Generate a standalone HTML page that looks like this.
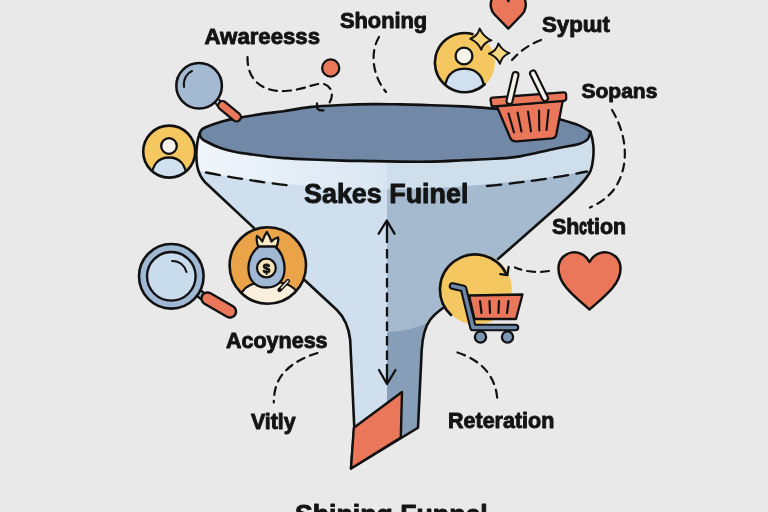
<!DOCTYPE html>
<html lang="en">
<head>
<meta charset="utf-8">
<title>Sakes Fuinel</title>
<style>
  html, body { margin: 0; padding: 0; background: #e9e9e9; }
  body { width: 768px; height: 512px; overflow: hidden; position: relative; }
  svg { position: absolute; left: 0; top: 0; display: block; will-change: transform; }
  text { font-family: "Liberation Sans", sans-serif; font-weight: bold; fill: #141414; stroke: #141414; stroke-width: 0.9px; stroke-linejoin: round; }
</style>
</head>
<body>
<svg width="768" height="512" viewBox="0 0 768 512">
  <defs>
    <!-- funnel silhouette -->
    <path id="body" d="M199.7,133.4 C196,143 195.8,158 197.2,166 C198.5,173 201,178 205.6,182.8 L252.5,226.6 L304.8,280.3 L336.9,310 C343,316 348.5,325 350.2,340 L354.3,427.5 L351,468.5 L418,427.75 L421.7,350 C422.5,338 424,328 430,320 C434,314.5 438,311.5 442.7,308.2 L498,259 L560,204.5 C572,193.5 586,181 590.5,171 C593.2,164 594,152 593.3,145.3 C592.8,140 591.5,135 590.3,131.7 Z"/>
    <clipPath id="bodyClip"><use href="#body"/></clipPath>
    <linearGradient id="rimL" x1="0" x2="1" y1="0" y2="0">
      <stop offset="0" stop-color="#f1f6fb"/>
      <stop offset="1" stop-color="#d9e6f2"/>
    </linearGradient>
  </defs>

  <rect width="768" height="512" fill="#e9e9e9"/>

  <!-- ===== FUNNEL ===== -->
  <g clip-path="url(#bodyClip)">
    <!-- rim band -->
    <rect x="190" y="120" width="197" height="90" fill="url(#rimL)"/>
    <rect x="387" y="120" width="215" height="90" fill="#cfdeeb"/>
    <!-- below dashed line: left / right -->
    <path d="M190,168 L206,172.5 Q300,189 387,189.5 L387,480 L190,480 Z" fill="#cfdfed"/>
    <path d="M387,189.5 Q480,189 587,171.5 L600,168 L600,480 L387,480 Z" fill="#a5b9cf"/>
    <!-- stem darker part -->
    <path d="M387,332.5 Q412,331 432,321 L432,480 L387,480 Z" fill="#869eb7"/>
  </g>
  <!-- top ellipse -->
  <path d="M199.7,133.4 C200.0,132.8 200.5,131.0 201.5,130.0 C202.5,129.0 202.3,128.6 205.6,127.2 C208.9,125.8 216.0,123.2 221.25,121.7 C226.5,120.2 231.7,119.1 236.9,118.1 C242.1,117.1 247.3,116.3 252.5,115.5 C257.7,114.7 262.8,113.8 268.0,113.1 C273.2,112.4 276.5,112.2 283.75,111.2 C291.0,110.2 301.5,107.9 311.25,106.9 C321.0,105.9 332.1,105.5 342.5,105.0 C352.9,104.5 364.2,104.2 373.75,104.1 C383.3,104.0 390.4,104.2 400.0,104.4 C409.6,104.6 420.8,104.9 431.25,105.2 C441.7,105.5 452.6,105.9 462.5,106.4 C472.4,106.9 482.2,107.7 490.6,108.4 C499.0,109.1 504.8,109.8 513.0,110.8 C521.2,111.8 532.1,113.1 540.0,114.6 C547.9,116.0 554.0,117.7 560.5,119.5 C567.0,121.3 574.0,123.4 579.0,125.4 C584.0,127.4 588.4,130.6 590.3,131.7 C589.9,132.9 589.8,136.9 587.9,139.0 C586.0,141.1 584.5,142.4 579,144 C573.5,145.6 564.8,146.7 555.0,148.75 C545.2,150.8 530.2,154.7 520.0,156.4 C509.8,158.1 503.3,158.1 493.75,158.75 C484.2,159.4 472.9,159.8 462.5,160.3 C452.1,160.8 441.7,161.4 431.25,161.6 C420.8,161.8 409.6,161.7 400.0,161.6 C390.4,161.5 383.3,161.3 373.75,161.1 C364.2,160.9 352.9,160.9 342.5,160.6 C332.1,160.3 321.0,159.9 311.25,159.5 C301.5,159.1 291.0,158.6 283.75,158.1 C276.5,157.6 273.2,157.2 268.0,156.6 C262.8,156.0 257.7,155.2 252.5,154.5 C247.3,153.8 242.1,153.2 236.9,152.2 C231.7,151.2 226.5,150.1 221.25,148.3 C216.0,146.5 209.0,143.1 205.6,141.25 C202.2,139.4 202.0,138.8 201.0,137.5 C200.0,136.2 199.9,134.1 199.7,133.4 Z" fill="#7189a6" stroke="#111" stroke-width="2.6" stroke-linejoin="round"/>
  <!-- outline -->
  <path d="M199.7,133.4 C196,143 195.8,158 197.2,166 C198.5,173 201,178 205.6,182.8 L252.5,226.6 L304.8,280.3 L336.9,310 C343,316 348.5,325 350.2,340 L354.3,427.5 L351,468.5 L418,427.75 L421.7,350 C422.5,338 424,328 430,320 C434,314.5 438,311.5 442.7,308.2 M498,259 L560,204.5 C572,193.5 586,181 590.5,171 C593.2,164 594,152 593.3,145.3 C592.8,140 591.5,135 590.3,131.7" fill="none" stroke="#111" stroke-width="2.6" stroke-linejoin="round" stroke-linecap="round"/>
  <!-- dashed rim line -->
  <path d="M206,172.5 Q250,181 293,186" fill="none" stroke="#111" stroke-width="2.3" stroke-dasharray="14 8.5" stroke-linecap="round"/>
  <path d="M487,186 Q540,181 587,171.5" fill="none" stroke="#111" stroke-width="2.3" stroke-dasharray="14 8.5" stroke-linecap="round"/>
  <!-- center arrow -->
  <path d="M387,222 L387,243 M387,364 L387,382" fill="none" stroke="#111" stroke-width="2.3"/>
  <path d="M387,249 L387,360" fill="none" stroke="#111" stroke-width="2.3" stroke-dasharray="9.5 5"/>
  <path d="M378.7,233.7 L386.8,220.5 L394.5,233.7" fill="none" stroke="#111" stroke-width="2.3" stroke-linecap="round" stroke-linejoin="round"/>
  <path d="M379,370 L387,384 L395.5,370" fill="none" stroke="#111" stroke-width="2.3" stroke-linecap="round" stroke-linejoin="round"/>
  <!-- orange bottom -->
  <path d="M402,392 L400.8,437.5 L351,468.5 L353.8,427.8 Z" fill="#ea775a" stroke="#111" stroke-width="2.4" stroke-linejoin="round"/>

  <!-- ===== dashed connectors ===== -->
  <g fill="none" stroke="#111" stroke-width="2.2" stroke-dasharray="8 6" stroke-linecap="round">
    <path d="M247.5,57 C247,80 262,92 285,91 C305,90 316,82 324,84 C333,87 334,97 328.5,104"/>
    <path d="M379,37 C370,52 372,75 386,92"/>
    <path d="M541,40 C530,44 520,51 512,60"/>
    <path d="M612,110 C627,135 630,165 615,188 C608,198 598,204 590,207.5"/>
    <path d="M549,271 C538,273 526,272 515,267.5"/>
    <path d="M317.5,353 C300,358 282,369 276.5,385 C274.5,391 273.8,397 273.8,402.5"/>
    <path d="M457.5,352.5 C480,360 497,375 497.5,403"/>
  </g>
  <path d="M317,103.5 C316.5,109 318,111 323.5,110.3" fill="none" stroke="#111" stroke-width="2.3" stroke-linecap="round"/>

  <!-- orange dot -->
  <circle cx="330.7" cy="68" r="8.6" fill="#ea775a" stroke="#111" stroke-width="2.2"/>

  <!-- ===== magnifier 1 ===== -->
  <g>
    <path d="M217,101 L221,106" stroke="#111" stroke-width="7" stroke-linecap="butt"/>
    <path d="M217,101 L221,106" stroke="#dfe8f0" stroke-width="3"/>
    <path d="M222.5,105.5 L236.5,117" stroke="#111" stroke-width="11" stroke-linecap="round"/>
    <path d="M222.5,105.5 L236.5,117" stroke="#ea775a" stroke-width="6.4" stroke-linecap="round"/>
    <circle cx="199.1" cy="85.7" r="22.8" fill="#a4bad3" stroke="#111" stroke-width="2.5"/>
    <path d="M184,87 C183,79 187,73 192,71" fill="none" stroke="#111" stroke-width="2" stroke-linecap="round"/>
  </g>

  <!-- ===== user icon 1 ===== -->
  <g>
    <clipPath id="u1"><circle cx="169.2" cy="151.6" r="26"/></clipPath>
    <circle cx="169.2" cy="151.6" r="26" fill="#f5c761"/>
    <g clip-path="url(#u1)">
      <path d="M151,182 C151,164 159,157.5 169,157.5 C179,157.5 187,164 187,182 Z" fill="#d0e0ee" stroke="#111" stroke-width="2.3"/>
    </g>
    <circle cx="169" cy="146" r="7.8" fill="#f5f3ea" stroke="#111" stroke-width="2.3"/>
    <circle cx="169.2" cy="151.6" r="26" fill="none" stroke="#111" stroke-width="2.6"/>
  </g>

  <!-- ===== user icon 2 (sparkles) ===== -->
  <g>
    <clipPath id="u2"><circle cx="464.5" cy="62.6" r="29.6"/></clipPath>
    <circle cx="464.5" cy="62.6" r="30.4" fill="#f5c761"/>
    <g clip-path="url(#u2)">
      <path d="M444.5,98 C443.5,76 452,68.6 464.5,68.6 C477,68.6 485.5,76 484.5,98 Z" fill="#d0e0ee" stroke="#111" stroke-width="2.3"/>
    </g>
    <circle cx="464" cy="56" r="8.4" fill="#f5f3ea" stroke="#111" stroke-width="2.3"/>
    <path d="M484.69,84.25 A29.6,29.6 0 1 1 472.31,34.05" fill="none" stroke="#111" stroke-width="2.6" stroke-linecap="round"/>
    <path d="M479.7,28.6 Q483.5,37 491.4,40.3 Q483.5,42.5 481.2,49.7 Q478,42 470.3,38.8 Q477.5,36.5 479.7,28.6 Z" fill="#f7d77e" stroke="#111" stroke-width="2" stroke-linejoin="round"/>
    <path d="M498.4,43.4 Q502,50.5 509.4,53.1 Q502,55.8 500,63.8 Q496.5,56.2 489,53.6 Q496.3,51 498.4,43.4 Z" fill="#f7d77e" stroke="#111" stroke-width="2" stroke-linejoin="round"/>
  </g>

  <!-- ===== heart top ===== -->
  <path d="M508.3,28.6 L494.5,14.5 C490.5,10.5 490,4 491.5,0 C495,-9 505.5,-8 508.3,1.2 C511.1,-8 521.5,-9 525,0 C526.5,4 526,10.5 522,14.5 Z" fill="#ea775a" stroke="#111" stroke-width="2.4" stroke-linejoin="round"/>

  <!-- ===== basket ===== -->
  <g>
    <path d="M496.7,106 L562.8,100.5 L556.2,135 Q555.5,138 552,138.4 L517,141.4 Q512,141.8 510.3,138 Z" fill="#ea775a" stroke="#111" stroke-width="2.3" stroke-linejoin="round"/>
    <g stroke="#111" stroke-width="2.1" stroke-linecap="round">
      <path d="M508.5,113.5 L514,132.5"/><path d="M517.5,112.5 L521.5,131.5"/><path d="M528,111.5 L531,131.5"/><path d="M539,110.5 L539.3,130.5"/><path d="M548.5,110 L546.5,130"/>
    </g>
    <path d="M492.6,97.6 L563.6,92.4 Q566,92.2 566.1,94.6 L566.2,98.6 Q566.2,100.6 564,100.8 L494,106.5 Q491.6,106.7 491.3,104.5 L490.6,100 Q490.4,97.8 492.6,97.6 Z" fill="#ea775a" stroke="#111" stroke-width="2.3" stroke-linejoin="round"/>
    <path d="M515.5,75 L509.5,101" stroke="#111" stroke-width="8" stroke-linecap="round"/>
    <path d="M515.5,75 L509.5,101" stroke="#f5f3ea" stroke-width="3.8" stroke-linecap="round"/>
    <path d="M533,73.5 L545,98" stroke="#111" stroke-width="8" stroke-linecap="round"/>
    <path d="M533,73.5 L545,98" stroke="#f5f3ea" stroke-width="3.8" stroke-linecap="round"/>
  </g>

  <!-- ===== heart right ===== -->
  <path d="M589.5,309.5 C574,296 558,284 558.5,268 C559,251 581,246 589.5,262 C598,246 620,251 620.5,268 C621,284 605,296 589.5,309.5 Z" fill="#ea775a" stroke="#111" stroke-width="2.5" stroke-linejoin="round"/>

  <!-- ===== cart ===== -->
  <g>
    <circle cx="476.3" cy="289" r="35.6" fill="#f5c761"/>
    <path d="M451,315 A35,35 0 1 1 506.5,274.3" fill="none" stroke="#111" stroke-width="2.6" stroke-linecap="round"/>
    <path d="M469,295.5 L522.5,294.5 L516,319 L474.5,319 Z" fill="#ea775a" stroke="#111" stroke-width="2.3" stroke-linejoin="round"/>
    <g stroke="#111" stroke-width="2.2" stroke-linecap="round">
      <path d="M480,301 L481.5,313"/><path d="M489.5,301 L490,313"/><path d="M499,301 L498.5,313"/><path d="M508.5,301 L507,313"/>
    </g>
    <path d="M452.5,286 L463.5,288.5 L473,327.5 L515.5,327.5" fill="none" stroke="#111" stroke-width="7.5" stroke-linecap="round" stroke-linejoin="round"/>
    <path d="M452.5,286 L463.5,288.5 L473,327.5 L515.5,327.5" fill="none" stroke="#6e88a8" stroke-width="3.4" stroke-linecap="round" stroke-linejoin="round"/>
    <circle cx="480.5" cy="337" r="5.6" fill="#7d97b5" stroke="#111" stroke-width="2.3"/>
    <circle cx="507.5" cy="337" r="5.6" fill="#7d97b5" stroke="#111" stroke-width="2.3"/>
    <path d="M500.3,274.2 L507.4,275.2 L508.6,267" fill="none" stroke="#111" stroke-width="2.3" stroke-linecap="round" stroke-linejoin="round"/>
  </g>

  <!-- ===== magnifier 2 ===== -->
  <g>
    <path d="M197,292 L204,297" stroke="#111" stroke-width="9" />
    <path d="M197,292 L204,297" stroke="#a3b8cf" stroke-width="4.5" />
    <path d="M207.5,298.5 L230,311.5" stroke="#111" stroke-width="14.5" stroke-linecap="round"/>
    <path d="M207.5,298.5 L230,311.5" stroke="#ea775a" stroke-width="9.6" stroke-linecap="round"/>
    <circle cx="171.3" cy="276.3" r="32.3" fill="#9fb8d4" stroke="#111" stroke-width="2.6"/>
    <circle cx="171.3" cy="276.3" r="24.3" fill="#c9dcec" stroke="#111" stroke-width="2.4"/>
    <path d="M172,261 C180,261 185,266 186.5,272" fill="none" stroke="#111" stroke-width="2" stroke-linecap="round"/>
  </g>

  <!-- ===== money bag ===== -->
  <g>
    <clipPath id="mb"><circle cx="267.8" cy="265.5" r="38.2"/></clipPath>
    <circle cx="267.8" cy="265.5" r="38.2" fill="#eaa348"/>
    <g clip-path="url(#mb)">
      <path d="M240,296 C244,286 254,281.5 268,281.5 C284,281.5 294,285 298,294 L298,310 L240,310 Z" fill="#f9efdc" stroke="#111" stroke-width="2.2"/>
    </g>
    <path d="M258.5,247.5 C257,243 256,239 257,236 C259,237 261,239.5 262.3,241.5 C263.5,238 265,234.5 266.8,231.8 C268.6,234.5 270.2,238 271.5,241.5 C273,239.5 275.5,238 278.2,237.4 C278.6,240.5 277.8,244 276.3,247.5 Z" fill="#f9e9c4" stroke="#111" stroke-width="2.2" stroke-linejoin="round"/>
    <path d="M259,246.5 C251,252 248,262 248.5,270 C249,282 257,287.5 266.5,287.5 C276,287.5 284,282 284.5,270 C285,262 282,252 275,246.5 Z" fill="#9fb8d4" stroke="#111" stroke-width="2.3" stroke-linejoin="round"/>
    <circle cx="266.4" cy="268" r="9.4" fill="#f9e3bb" stroke="#111" stroke-width="2.2"/>
    <text x="266.4" y="272.8" font-size="13.5" text-anchor="middle" stroke="none">$</text>
    <path d="M279.5,290 L288,281" stroke="#111" stroke-width="4.2" stroke-linecap="round"/>
    <path d="M281.5,288 L288,281" stroke="#f9efdc" stroke-width="1.3" stroke-linecap="round"/>
    <circle cx="267.8" cy="265.5" r="38.2" fill="none" stroke="#111" stroke-width="2.6"/>
  </g>

  <!-- ===== labels ===== -->
  <text x="204.5" y="43.8" font-size="22.2">Awareesss</text>
  <text x="340" y="28" font-size="21.8">Shoning</text>
  <text x="542" y="32" font-size="22.2">Sypɯt</text>
  <text x="581.5" y="98" font-size="21">Sopans</text>
  <text x="552" y="233.8" font-size="21.4">Sh<tspan textLength="7.6" lengthAdjust="spacingAndGlyphs" stroke-width="1.5">c</tspan>tion</text>
  <text x="304" y="202.6" font-size="26.9">Sakes Fuinel</text>
  <text x="226" y="347.5" font-size="21.5">Acoyness</text>
  <text x="251" y="428.8" font-size="21.3">Vitly</text>
  <text x="448" y="427.5" font-size="21.5">Reteration</text>
  <text x="295" y="523" font-size="26.7">Shining Funnel</text>
</svg>
</body>
</html>
